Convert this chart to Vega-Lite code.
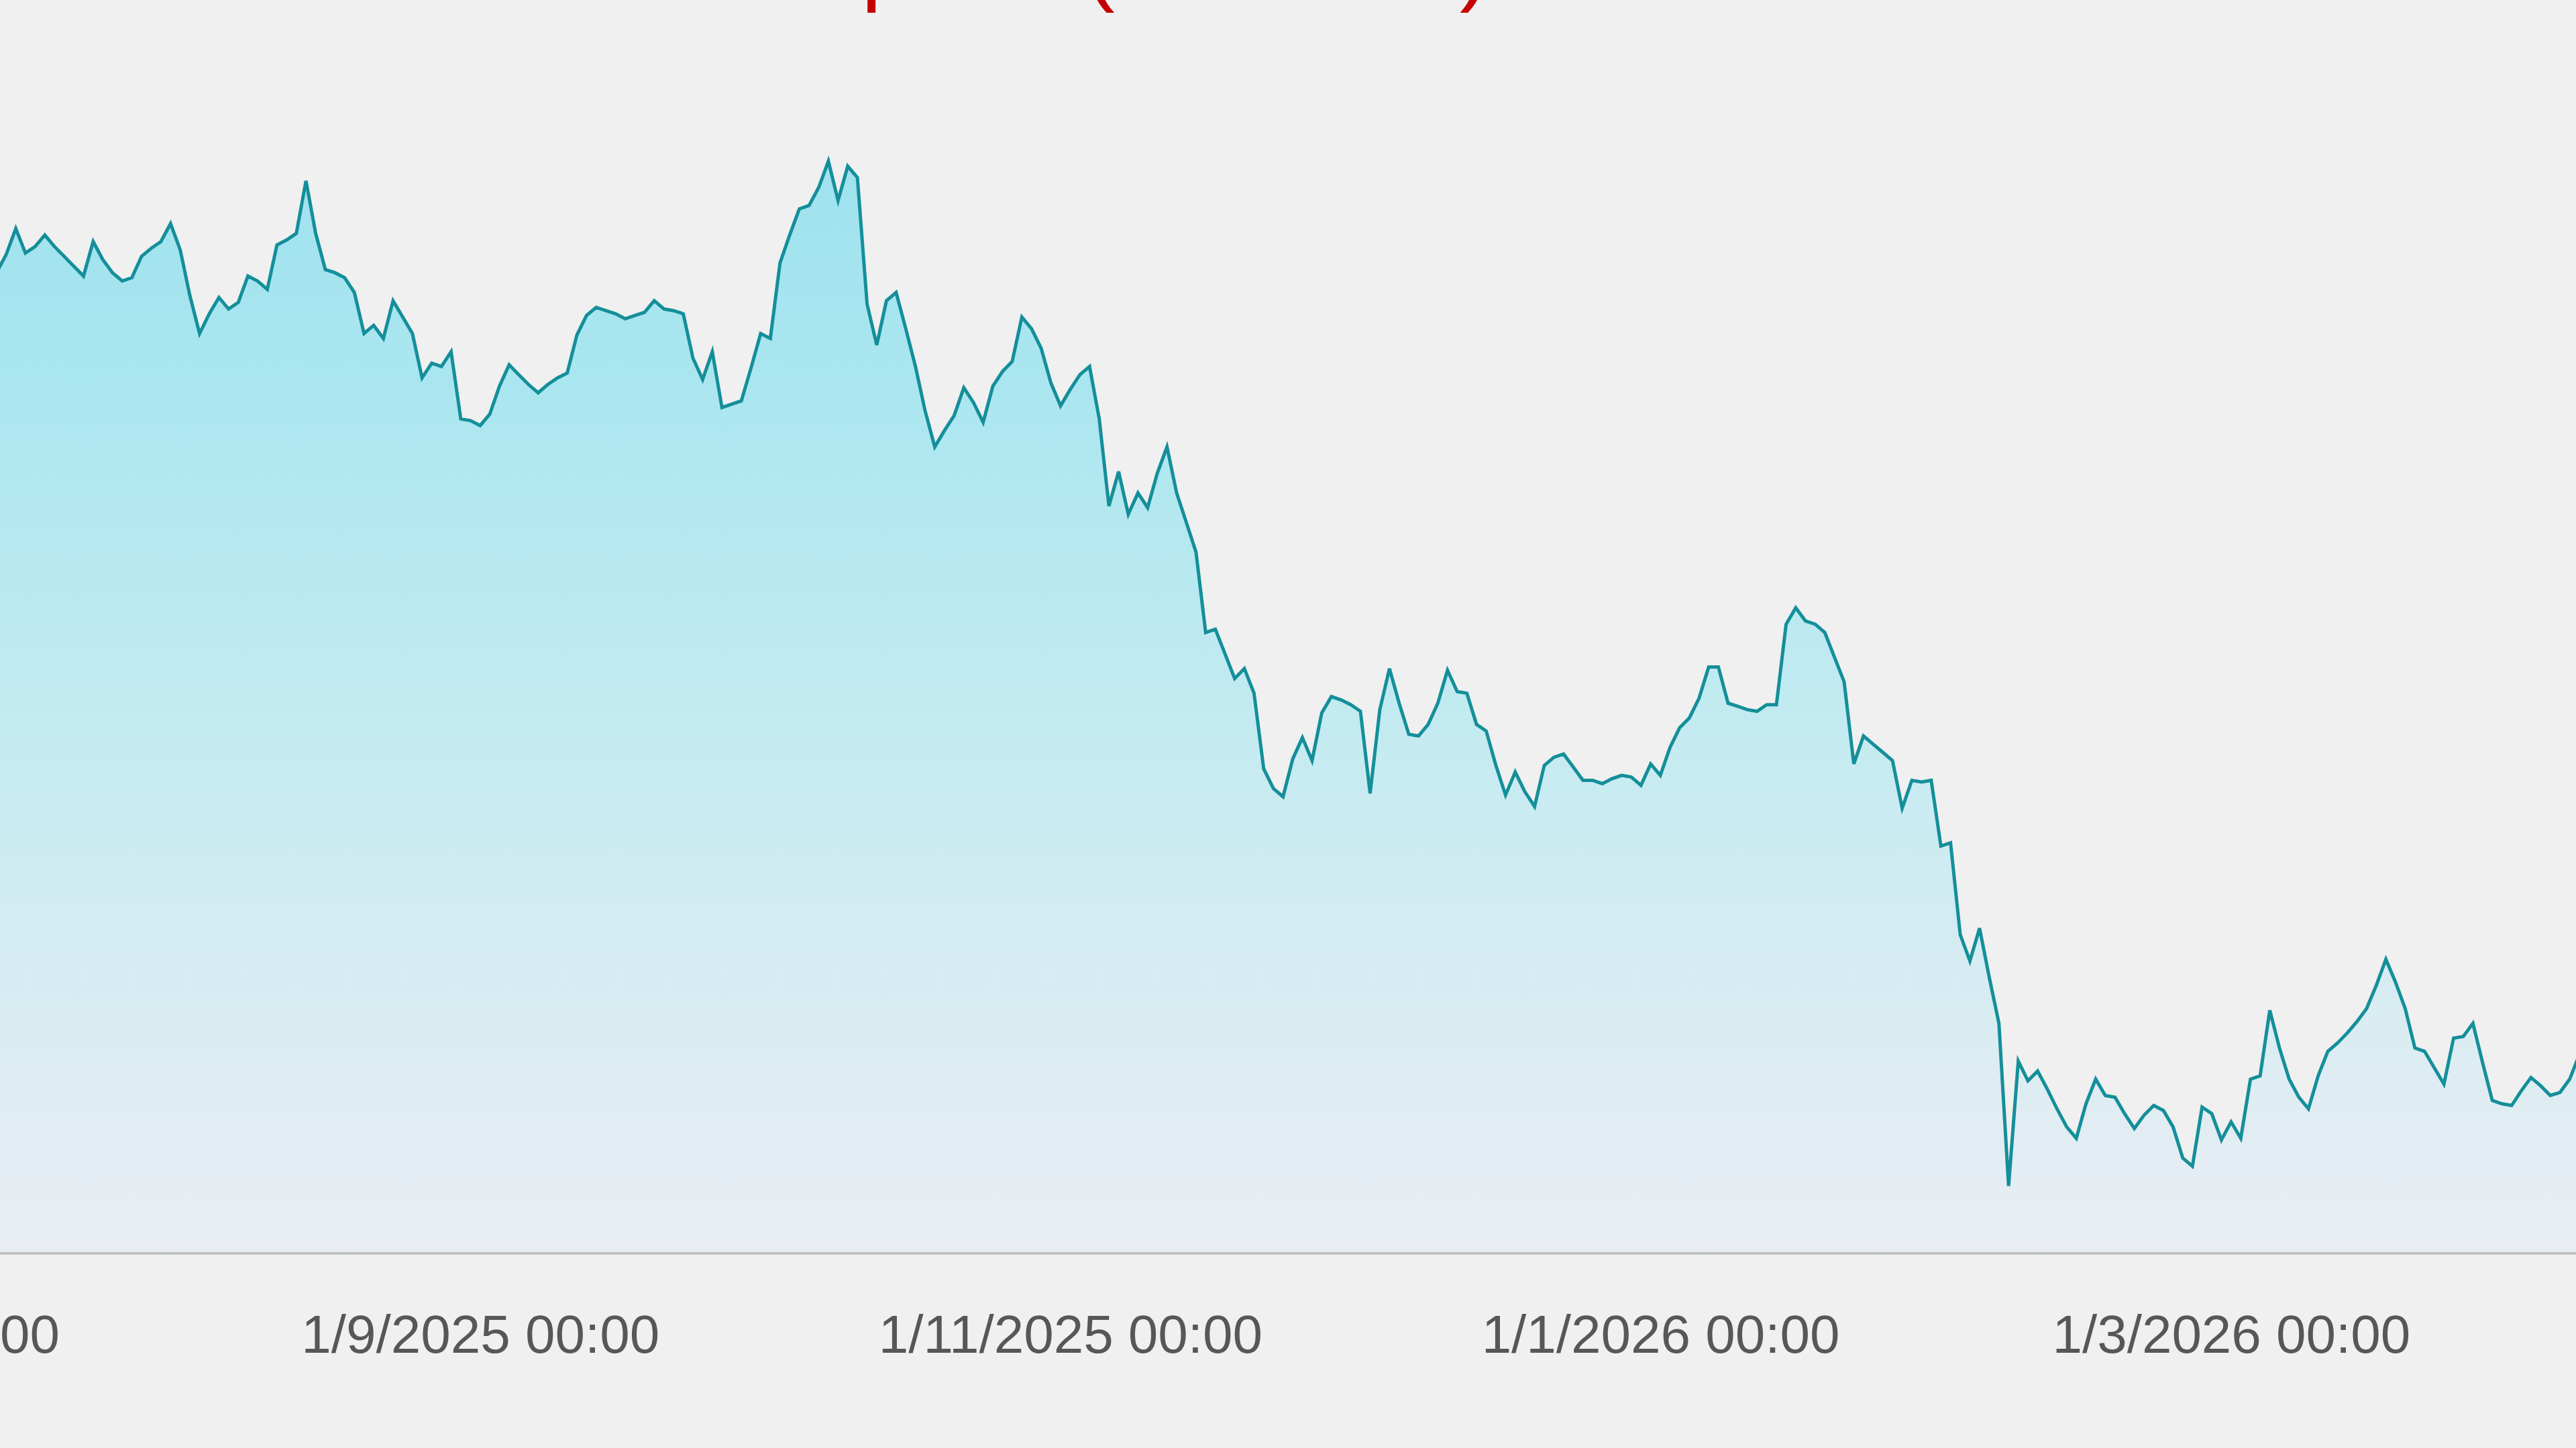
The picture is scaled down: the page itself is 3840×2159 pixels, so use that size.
{
  "$schema": "https://vega.github.io/schema/vega-lite/v6.json",
  "autosize": "none",
  "width": 4182,
  "height": 1760,
  "padding": {"left": -337, "top": 107, "right": -5, "bottom": 292},
  "background": "#f0f0f0",
  "title": {
    "text": "Bitcoin price (in USDT)",
    "anchor": "start",
    "frame": "group",
    "dx": 1175,
    "dy": 126,
    "offset": 77,
    "baseline": "bottom",
    "fontSize": 136,
    "font": "Liberation Sans",
    "fontWeight": "normal",
    "color": "#c40000"
  },
  "config": {
    "view": {"stroke": null},
    "axis": {"grid": false}
  },
  "data": {
    "values": [
      {"date": "2025-07-12", "price": 117660},
      {"date": "2025-07-13", "price": 117860},
      {"date": "2025-07-14", "price": 118950},
      {"date": "2025-07-15", "price": 120530},
      {"date": "2025-07-16", "price": 119050},
      {"date": "2025-07-17", "price": 119440},
      {"date": "2025-07-18", "price": 120140},
      {"date": "2025-07-19", "price": 119440},
      {"date": "2025-07-20", "price": 118850},
      {"date": "2025-07-21", "price": 118250},
      {"date": "2025-07-22", "price": 117660},
      {"date": "2025-07-23", "price": 119740},
      {"date": "2025-07-24", "price": 118650},
      {"date": "2025-07-25", "price": 117860},
      {"date": "2025-07-26", "price": 117360},
      {"date": "2025-07-27", "price": 117560},
      {"date": "2025-07-28", "price": 118850},
      {"date": "2025-07-29", "price": 119340},
      {"date": "2025-07-30", "price": 119740},
      {"date": "2025-07-31", "price": 120830},
      {"date": "2025-08-01", "price": 119240},
      {"date": "2025-08-02", "price": 116470},
      {"date": "2025-08-03", "price": 114190},
      {"date": "2025-08-04", "price": 115380},
      {"date": "2025-08-05", "price": 116370},
      {"date": "2025-08-06", "price": 115670},
      {"date": "2025-08-07", "price": 116070},
      {"date": "2025-08-08", "price": 117660},
      {"date": "2025-08-09", "price": 117360},
      {"date": "2025-08-10", "price": 116860},
      {"date": "2025-08-11", "price": 119540},
      {"date": "2025-08-12", "price": 119840},
      {"date": "2025-08-13", "price": 120240},
      {"date": "2025-08-14", "price": 123410},
      {"date": "2025-08-15", "price": 120240},
      {"date": "2025-08-16", "price": 118050},
      {"date": "2025-08-17", "price": 117860},
      {"date": "2025-08-18", "price": 117560},
      {"date": "2025-08-19", "price": 116670},
      {"date": "2025-08-20", "price": 114190},
      {"date": "2025-08-21", "price": 114680},
      {"date": "2025-08-22", "price": 113890},
      {"date": "2025-08-23", "price": 116170},
      {"date": "2025-08-24", "price": 115180},
      {"date": "2025-08-25", "price": 114190},
      {"date": "2025-08-26", "price": 111510},
      {"date": "2025-08-27", "price": 112400},
      {"date": "2025-08-28", "price": 112200},
      {"date": "2025-08-29", "price": 113090},
      {"date": "2025-08-30", "price": 109030},
      {"date": "2025-08-31", "price": 108930},
      {"date": "2025-09-01", "price": 108630},
      {"date": "2025-09-02", "price": 109320},
      {"date": "2025-09-03", "price": 111010},
      {"date": "2025-09-04", "price": 112300},
      {"date": "2025-09-05", "price": 111700},
      {"date": "2025-09-06", "price": 111110},
      {"date": "2025-09-07", "price": 110610},
      {"date": "2025-09-08", "price": 111110},
      {"date": "2025-09-09", "price": 111510},
      {"date": "2025-09-10", "price": 111800},
      {"date": "2025-09-11", "price": 114090},
      {"date": "2025-09-12", "price": 115280},
      {"date": "2025-09-13", "price": 115770},
      {"date": "2025-09-14", "price": 115570},
      {"date": "2025-09-15", "price": 115380},
      {"date": "2025-09-16", "price": 115080},
      {"date": "2025-09-17", "price": 115280},
      {"date": "2025-09-18", "price": 115470},
      {"date": "2025-09-19", "price": 116170},
      {"date": "2025-09-20", "price": 115670},
      {"date": "2025-09-21", "price": 115570},
      {"date": "2025-09-22", "price": 115380},
      {"date": "2025-09-23", "price": 112700},
      {"date": "2025-09-24", "price": 111410},
      {"date": "2025-09-25", "price": 113090},
      {"date": "2025-09-26", "price": 109720},
      {"date": "2025-09-27", "price": 109920},
      {"date": "2025-09-28", "price": 110120},
      {"date": "2025-09-29", "price": 112100},
      {"date": "2025-09-30", "price": 114190},
      {"date": "2025-10-01", "price": 113890},
      {"date": "2025-10-02", "price": 118450},
      {"date": "2025-10-03", "price": 120140},
      {"date": "2025-10-04", "price": 121720},
      {"date": "2025-10-05", "price": 121920},
      {"date": "2025-10-06", "price": 123010},
      {"date": "2025-10-07", "price": 124600},
      {"date": "2025-10-08", "price": 122220},
      {"date": "2025-10-09", "price": 124300},
      {"date": "2025-10-10", "price": 123610},
      {"date": "2025-10-11", "price": 115970},
      {"date": "2025-10-12", "price": 113490},
      {"date": "2025-10-13", "price": 116170},
      {"date": "2025-10-14", "price": 116670},
      {"date": "2025-10-15", "price": 114480},
      {"date": "2025-10-16", "price": 112200},
      {"date": "2025-10-17", "price": 109520},
      {"date": "2025-10-18", "price": 107340},
      {"date": "2025-10-19", "price": 108330},
      {"date": "2025-10-20", "price": 109230},
      {"date": "2025-10-21", "price": 110910},
      {"date": "2025-10-22", "price": 110020},
      {"date": "2025-10-23", "price": 108830},
      {"date": "2025-10-24", "price": 111010},
      {"date": "2025-10-25", "price": 111900},
      {"date": "2025-10-26", "price": 112500},
      {"date": "2025-10-27", "price": 115180},
      {"date": "2025-10-28", "price": 114480},
      {"date": "2025-10-29", "price": 113290},
      {"date": "2025-10-30", "price": 111210},
      {"date": "2025-10-31", "price": 109820},
      {"date": "2025-11-01", "price": 110810},
      {"date": "2025-11-02", "price": 111700},
      {"date": "2025-11-03", "price": 112200},
      {"date": "2025-11-04", "price": 109030},
      {"date": "2025-11-05", "price": 103770},
      {"date": "2025-11-06", "price": 105850},
      {"date": "2025-11-07", "price": 103270},
      {"date": "2025-11-08", "price": 104560},
      {"date": "2025-11-09", "price": 103670},
      {"date": "2025-11-10", "price": 105750},
      {"date": "2025-11-11", "price": 107340},
      {"date": "2025-11-12", "price": 104560},
      {"date": "2025-11-13", "price": 102780},
      {"date": "2025-11-14", "price": 100990},
      {"date": "2025-11-15", "price": 96130},
      {"date": "2025-11-16", "price": 96330},
      {"date": "2025-11-17", "price": 94840},
      {"date": "2025-11-18", "price": 93350},
      {"date": "2025-11-19", "price": 93950},
      {"date": "2025-11-20", "price": 92460},
      {"date": "2025-11-21", "price": 87900},
      {"date": "2025-11-22", "price": 86710},
      {"date": "2025-11-23", "price": 86210},
      {"date": "2025-11-24", "price": 88490},
      {"date": "2025-11-25", "price": 89780},
      {"date": "2025-11-26", "price": 88390},
      {"date": "2025-11-27", "price": 91270},
      {"date": "2025-11-28", "price": 92260},
      {"date": "2025-11-29", "price": 92060},
      {"date": "2025-11-30", "price": 91770},
      {"date": "2025-12-01", "price": 91370},
      {"date": "2025-12-02", "price": 86410},
      {"date": "2025-12-03", "price": 91470},
      {"date": "2025-12-04", "price": 93950},
      {"date": "2025-12-05", "price": 91860},
      {"date": "2025-12-06", "price": 89980},
      {"date": "2025-12-07", "price": 89880},
      {"date": "2025-12-08", "price": 90580},
      {"date": "2025-12-09", "price": 91860},
      {"date": "2025-12-10", "price": 93850},
      {"date": "2025-12-11", "price": 92560},
      {"date": "2025-12-12", "price": 92460},
      {"date": "2025-12-13", "price": 90580},
      {"date": "2025-12-14", "price": 90180},
      {"date": "2025-12-15", "price": 88100},
      {"date": "2025-12-16", "price": 86310},
      {"date": "2025-12-17", "price": 87700},
      {"date": "2025-12-18", "price": 86510},
      {"date": "2025-12-19", "price": 85620},
      {"date": "2025-12-20", "price": 88100},
      {"date": "2025-12-21", "price": 88590},
      {"date": "2025-12-22", "price": 88790},
      {"date": "2025-12-23", "price": 88000},
      {"date": "2025-12-24", "price": 87200},
      {"date": "2025-12-25", "price": 87200},
      {"date": "2025-12-26", "price": 87000},
      {"date": "2025-12-27", "price": 87300},
      {"date": "2025-12-28", "price": 87500},
      {"date": "2025-12-29", "price": 87400},
      {"date": "2025-12-30", "price": 86900},
      {"date": "2025-12-31", "price": 88190},
      {"date": "2026-01-01", "price": 87500},
      {"date": "2026-01-02", "price": 89190},
      {"date": "2026-01-03", "price": 90380},
      {"date": "2026-01-04", "price": 90970},
      {"date": "2026-01-05", "price": 92160},
      {"date": "2026-01-06", "price": 94050},
      {"date": "2026-01-07", "price": 94050},
      {"date": "2026-01-08", "price": 91860},
      {"date": "2026-01-09", "price": 91670},
      {"date": "2026-01-10", "price": 91470},
      {"date": "2026-01-11", "price": 91370},
      {"date": "2026-01-12", "price": 91770},
      {"date": "2026-01-13", "price": 91770},
      {"date": "2026-01-14", "price": 96630},
      {"date": "2026-01-15", "price": 97620},
      {"date": "2026-01-16", "price": 96830},
      {"date": "2026-01-17", "price": 96630},
      {"date": "2026-01-18", "price": 96130},
      {"date": "2026-01-19", "price": 94640},
      {"date": "2026-01-20", "price": 93150},
      {"date": "2026-01-21", "price": 88190},
      {"date": "2026-01-22", "price": 89880},
      {"date": "2026-01-23", "price": 89380},
      {"date": "2026-01-24", "price": 88890},
      {"date": "2026-01-25", "price": 88390},
      {"date": "2026-01-26", "price": 85520},
      {"date": "2026-01-27", "price": 87200},
      {"date": "2026-01-28", "price": 87100},
      {"date": "2026-01-29", "price": 87200},
      {"date": "2026-01-30", "price": 83230},
      {"date": "2026-01-31", "price": 83430},
      {"date": "2026-02-01", "price": 77880},
      {"date": "2026-02-02", "price": 76290},
      {"date": "2026-02-03", "price": 78270},
      {"date": "2026-02-04", "price": 75300},
      {"date": "2026-02-05", "price": 72520},
      {"date": "2026-02-06", "price": 62700},
      {"date": "2026-02-07", "price": 70240},
      {"date": "2026-02-08", "price": 69050},
      {"date": "2026-02-09", "price": 69640},
      {"date": "2026-02-10", "price": 68550},
      {"date": "2026-02-11", "price": 67360},
      {"date": "2026-02-12", "price": 66270},
      {"date": "2026-02-13", "price": 65580},
      {"date": "2026-02-14", "price": 67660},
      {"date": "2026-02-15", "price": 69150},
      {"date": "2026-02-16", "price": 68160},
      {"date": "2026-02-17", "price": 68060},
      {"date": "2026-02-18", "price": 67060},
      {"date": "2026-02-19", "price": 66170},
      {"date": "2026-02-20", "price": 66970},
      {"date": "2026-02-21", "price": 67560},
      {"date": "2026-02-22", "price": 67260},
      {"date": "2026-02-23", "price": 66270},
      {"date": "2026-02-24", "price": 64390},
      {"date": "2026-02-25", "price": 63890},
      {"date": "2026-02-26", "price": 67460},
      {"date": "2026-02-27", "price": 67070},
      {"date": "2026-02-28", "price": 65480},
      {"date": "2026-03-01", "price": 66570},
      {"date": "2026-03-02", "price": 65580},
      {"date": "2026-03-03", "price": 69150},
      {"date": "2026-03-04", "price": 69350},
      {"date": "2026-03-05", "price": 73310},
      {"date": "2026-03-06", "price": 71030},
      {"date": "2026-03-07", "price": 69150},
      {"date": "2026-03-08", "price": 68060},
      {"date": "2026-03-09", "price": 67360},
      {"date": "2026-03-10", "price": 69350},
      {"date": "2026-03-11", "price": 70830},
      {"date": "2026-03-12", "price": 71330},
      {"date": "2026-03-13", "price": 71930},
      {"date": "2026-03-14", "price": 72620},
      {"date": "2026-03-15", "price": 73410},
      {"date": "2026-03-16", "price": 74800},
      {"date": "2026-03-17", "price": 76390},
      {"date": "2026-03-18", "price": 75000},
      {"date": "2026-03-19", "price": 73410},
      {"date": "2026-03-20", "price": 71030},
      {"date": "2026-03-21", "price": 70830},
      {"date": "2026-03-22", "price": 69840},
      {"date": "2026-03-23", "price": 68850},
      {"date": "2026-03-24", "price": 71630},
      {"date": "2026-03-25", "price": 71730},
      {"date": "2026-03-26", "price": 72520},
      {"date": "2026-03-27", "price": 70140},
      {"date": "2026-03-28", "price": 67860},
      {"date": "2026-03-29", "price": 67660},
      {"date": "2026-03-30", "price": 67560},
      {"date": "2026-03-31", "price": 68450},
      {"date": "2026-04-01", "price": 69250},
      {"date": "2026-04-02", "price": 68750},
      {"date": "2026-04-03", "price": 68160},
      {"date": "2026-04-04", "price": 68350},
      {"date": "2026-04-05", "price": 69150},
      {"date": "2026-04-06", "price": 70640}
    ]
  },
  "encoding": {
    "x": {
      "field": "date",
      "type": "temporal",
      "scale": {
        "type": "utc",
        "domain": [
          {"year": 2025, "month": 6, "date": 20, "utc": true},
          {"year": 2026, "month": 4, "date": 6, "utc": true}
        ],
        "nice": false
      },
      "axis": {
        "title": null,
        "values": [
          {"year": 2025, "month": 7, "date": 1, "utc": true},
          {"year": 2025, "month": 9, "date": 1, "utc": true},
          {"year": 2025, "month": 11, "date": 1, "utc": true},
          {"year": 2026, "month": 1, "date": 1, "utc": true},
          {"year": 2026, "month": 3, "date": 1, "utc": true}
        ],
        "labelExpr": "utcFormat(datum.value, '%-d/%-m/%Y %H:%M')",
        "ticks": false,
        "tickSize": 0,
        "grid": false,
        "domain": true,
        "domainColor": "#bdbdbd",
        "domainWidth": 6,
        "labelFont": "Liberation Sans",
        "labelFontSize": 80,
        "labelColor": "#575757",
        "labelPadding": 86,
        "labelLimit": 3000,
        "labelFlush": false,
        "labelOverlap": false,
        "labelBound": false
      }
    },
    "y": {
      "field": "price",
      "type": "quantitative",
      "scale": {"domain": [58700, 130000], "nice": false, "zero": false},
      "axis": null
    }
  },
  "layer": [
    {
      "mark": {
        "type": "area",
        "clip": true,
        "color": {
          "gradient": "linear",
          "x1": 0, "y1": 0, "x2": 0, "y2": 1,
          "stops": [
            {"offset": 0, "color": "#9fe2ee"},
            {"offset": 0.2, "color": "#aae6f0"},
            {"offset": 0.55, "color": "#c6ebf1"},
            {"offset": 0.9, "color": "#e2edf3"},
            {"offset": 1, "color": "#e9edf3"}
          ]
        }
      },
      "encoding": {
        "y2": {"datum": 58700}
      }
    },
    {
      "mark": {
        "type": "line",
        "clip": true,
        "color": "#148f9a",
        "strokeWidth": 5,
        "strokeJoin": "miter"
      },
      "encoding": {}
    }
  ]
}
